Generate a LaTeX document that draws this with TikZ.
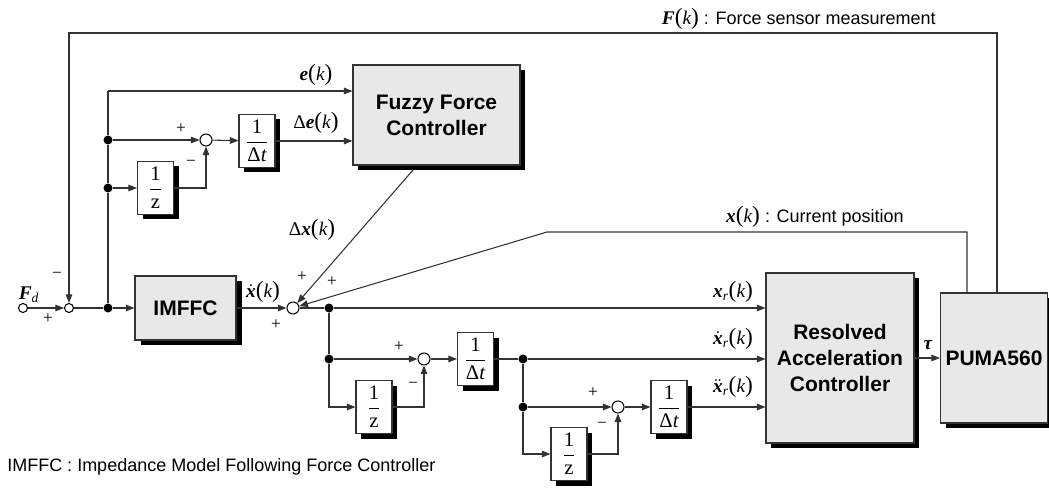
\RequirePackage{fix-cm}
\documentclass[tikz,border=0pt]{standalone}
\usepackage{amsmath}
\usepackage{fontspec}
\setmainfont{Liberation Sans}
\newfontfamily\tms{Liberation Serif}
\usetikzlibrary{arrows.meta,calc}

% bold italic serif variable, and the "(k)" argument with tall parentheses
\newcommand\bvar[1]{\text{\tms\bfseries\itshape #1}}
\newcommand\tpar[1]{\text{\tms\fontsize{17.5}{18}\selectfont #1}}
\newcommand\argk{\tpar{(}\text{\tms\itshape k}\tpar{)}}
\newcommand\sub[1]{_{\text{\tms\itshape #1}}}
\newcommand\dlt{\text{\tms Δ}}
\newcommand\fr[1]{$\dfrac{\text{\tms 1}}{\text{\tms #1}}$}

\tikzset{
  wire/.style={draw=black!80, line width=0.8pt},
  arr/.style={wire, -{Triangle[length=6.5pt,width=5pt]}},
  shadowfill/.style={fill=black},
  blk/.style={draw=black!80, line width=0.8pt, fill=black!9, inner sep=0pt,
    font=\fontsize{15.75}{19.5}\selectfont\bfseries, align=center},
  frbox/.style={draw=black!80, line width=0.8pt, fill=white, inner sep=0pt,
    minimum width={36*0.75pt}, minimum height={53*0.75pt}, font=\fontsize{15.5}{18}\selectfont},
  jdot/.style={circle, fill=black, minimum size={9*0.75pt}, inner sep=0pt},
  sumc/.style={circle, draw=black, line width=0.8pt, fill=white, minimum size={12*0.75pt}, inner sep=0pt},
  sumsm/.style={sumc, minimum size={9*0.75pt}},
  lab/.style={inner sep=0pt, font=\fontsize{14.5}{17}\selectfont},
  sgn/.style={inner sep=0pt, font=\tms\fontsize{13}{15}\selectfont},
  txt/.style={inner sep=0pt, font=\fontsize{13.5}{16}\selectfont},
}

\begin{document}
\begin{tikzpicture}[x=0.75pt, y=-0.75pt]
\useasboundingbox (0,0) rectangle (1049,488);

% ---- solid shadows behind the blocks (5 px down and right)
\fill[shadowfill] (358,70) rectangle (525,170);
\fill[shadowfill] (140.5,281) rectangle (241.5,345);
\fill[shadowfill] (771,278) rectangle (919,448);
\fill[shadowfill] (945.5,298) rectangle (1052.5,428);
\fill[shadowfill] (142.5,166.5) rectangle (178.5,219.5);
\fill[shadowfill] (244,119.5) rectangle (280,172.5);
\fill[shadowfill] (361,385.5) rectangle (397,438.5);
\fill[shadowfill] (462.5,337.5) rectangle (498.5,390.5);
\fill[shadowfill] (556,432.5) rectangle (592,485.5);
\fill[shadowfill] (656,385.5) rectangle (692,438.5);

% ---- main blocks
\node[blk, minimum width={167*0.75pt}, minimum height={100*0.75pt}] (ffc) at (436.5,115) {Fuzzy Force\\Controller};
\node[blk, minimum width={101*0.75pt}, minimum height={64*0.75pt}] (imffc) at (185.5,308) {IMFFC};
\node[blk, minimum width={148*0.75pt}, minimum height={170*0.75pt}] (rac) at (840,358) {Resolved\\Acceleration\\Controller};
\node[blk, minimum width={107*0.75pt}, minimum height={130*0.75pt}] (puma) at (994,358) {PUMA560};

% ---- delay and difference blocks
\node[frbox] (z1) at (155.5,188) {\fr{z}};
\node[frbox] (dt1) at (257,141) {\fr{Δ\itshape t}};
\node[frbox] (z2) at (374,407) {\fr{z}};
\node[frbox] (dt2) at (475.5,359) {\fr{Δ\itshape t}};
\node[frbox] (z3) at (569,454) {\fr{z}};
\node[frbox] (dt3) at (669,407) {\fr{Δ\itshape t}};

% ---- summing points and junctions
\node[sumsm] (fd) at (23,308) {};
\node[sumsm] (s1) at (69,308) {};
\node[sumc] (s0) at (206,140) {};
\node[sumc] (s2) at (293,308) {};
\node[sumc] (s3) at (424,359) {};
\node[sumc] (s4) at (618,407) {};

\node[jdot] (j1) at (108,308) {};
\node[jdot] (jA) at (108,140) {};
\node[jdot] (jB) at (108,188) {};
\node[jdot] (j2) at (329,308) {};
\node[jdot] (j3) at (329,359) {};
\node[jdot] (j4) at (523,359) {};
\node[jdot] (j5) at (523,407) {};

\coordinate (ecorner) at (108,91);
\coordinate (fbtop) at (997,33);
\coordinate (xpa) at (967,232);
\coordinate (xpb) at (547,232);
\coordinate (ffcout) at (413,170);

% ---- forward path
\draw[arr] (fd) -- (s1);
\draw[wire] (s1) -- (j1);
\draw[arr] (j1) -- (imffc);
\draw[arr] (imffc) -- (s2);
\draw[wire] (s2) -- (j2);
\draw[arr] (j2) -- (j2 -| rac.west);
\draw[wire] (j2) -- (j3);
\draw[arr] (j3) -- (s3);
\draw[arr] (j3) |- (z2.west);
\draw[arr] (z2.east) -| (s3.south);
\draw[arr] (s3) -- (dt2);
\draw[wire] (dt2) -- (j4);
\draw[arr] (j4) -- (j4 -| rac.west);
\draw[wire] (j4) -- (j5);
\draw[arr] (j5) -- (s4);
\draw[arr] (j5) |- (z3.west);
\draw[arr] (z3.east) -| (s4.south);
\draw[arr] (s4) -- (dt3);
\draw[arr] (dt3) -- (dt3 -| rac.west);
\draw[arr] (rac.east |- 0,358) -- (puma.west |- 0,358);

% ---- error branch to the fuzzy controller
\draw[wire] (j1) -- (jB) -- (jA) -- (ecorner);
\draw[arr] (ecorner) -- (ecorner -| ffc.west);
\draw[arr] (jA) -- (s0);
\draw[arr] (jB) -- (z1);
\draw[arr] (z1.east) -| (s0.south);
\draw[arr] (s0) -- (dt1);
\draw[arr] (dt1) -- (dt1 -| ffc.west);
\draw[arr] (ffcout) -- (s2);

% ---- feedback paths
\draw[arr] (puma.north -| fbtop) -- (fbtop) -| (s1.north);
\draw[arr] (puma.north -| xpa) -- (xpa) -- (xpb) -- (s2);

% ---- signal labels
\node[lab] (lFd) at (29,295) {$\bvar{F}\sub{d}$};
\node[lab] (le) at (316,75) {$\bvar{e}\argk$};
\node[lab] (lde) at (316,123) {$\dlt\bvar{e}\argk$};
\node[lab] (ldx) at (312,230) {$\dlt\bvar{x}\argk$};
\node[lab] (lxd) at (263,292) {$\dot{\bvar{x}}\argk$};
\node[lab] (lxr) at (733,292) {$\bvar{x}\sub{r}\argk$};
\node[lab] (lxrd) at (733,339) {$\dot{\bvar{x}}\sub{r}\argk$};
\node[lab] (lxrdd) at (733,387) {$\ddot{\bvar{x}}\sub{r}\argk$};
\node[lab] (ltau) at (928,345) {$\bvar{τ}$};
\node[txt, anchor=east] (lF) at (936,19) {{\fontsize{14.5}{17}\selectfont$\bvar{F}\argk$} : Force sensor measurement};
\node[txt, anchor=east] (lx) at (904,217) {{\fontsize{14.5}{17}\selectfont$\bvar{x}\argk$} : Current position};

% ---- signs at the summing points
\node[sgn] at (57,275) {−};
\node[sgn] at (48,319) {+};
\node[sgn] at (181,129) {+};
\node[sgn] at (191,163) {−};
\node[sgn] at (302,277) {+};
\node[sgn] at (332,282) {+};
\node[sgn] at (276,325) {+};
\node[sgn] at (399,347) {+};
\node[sgn] at (413,385) {−};
\node[sgn] at (593,393) {+};
\node[sgn] at (602,425) {−};

% ---- legend
\node[txt, anchor=west] (cap) at (7,467) {IMFFC : Impedance Model Following Force Controller};
\end{tikzpicture}
\end{document}
